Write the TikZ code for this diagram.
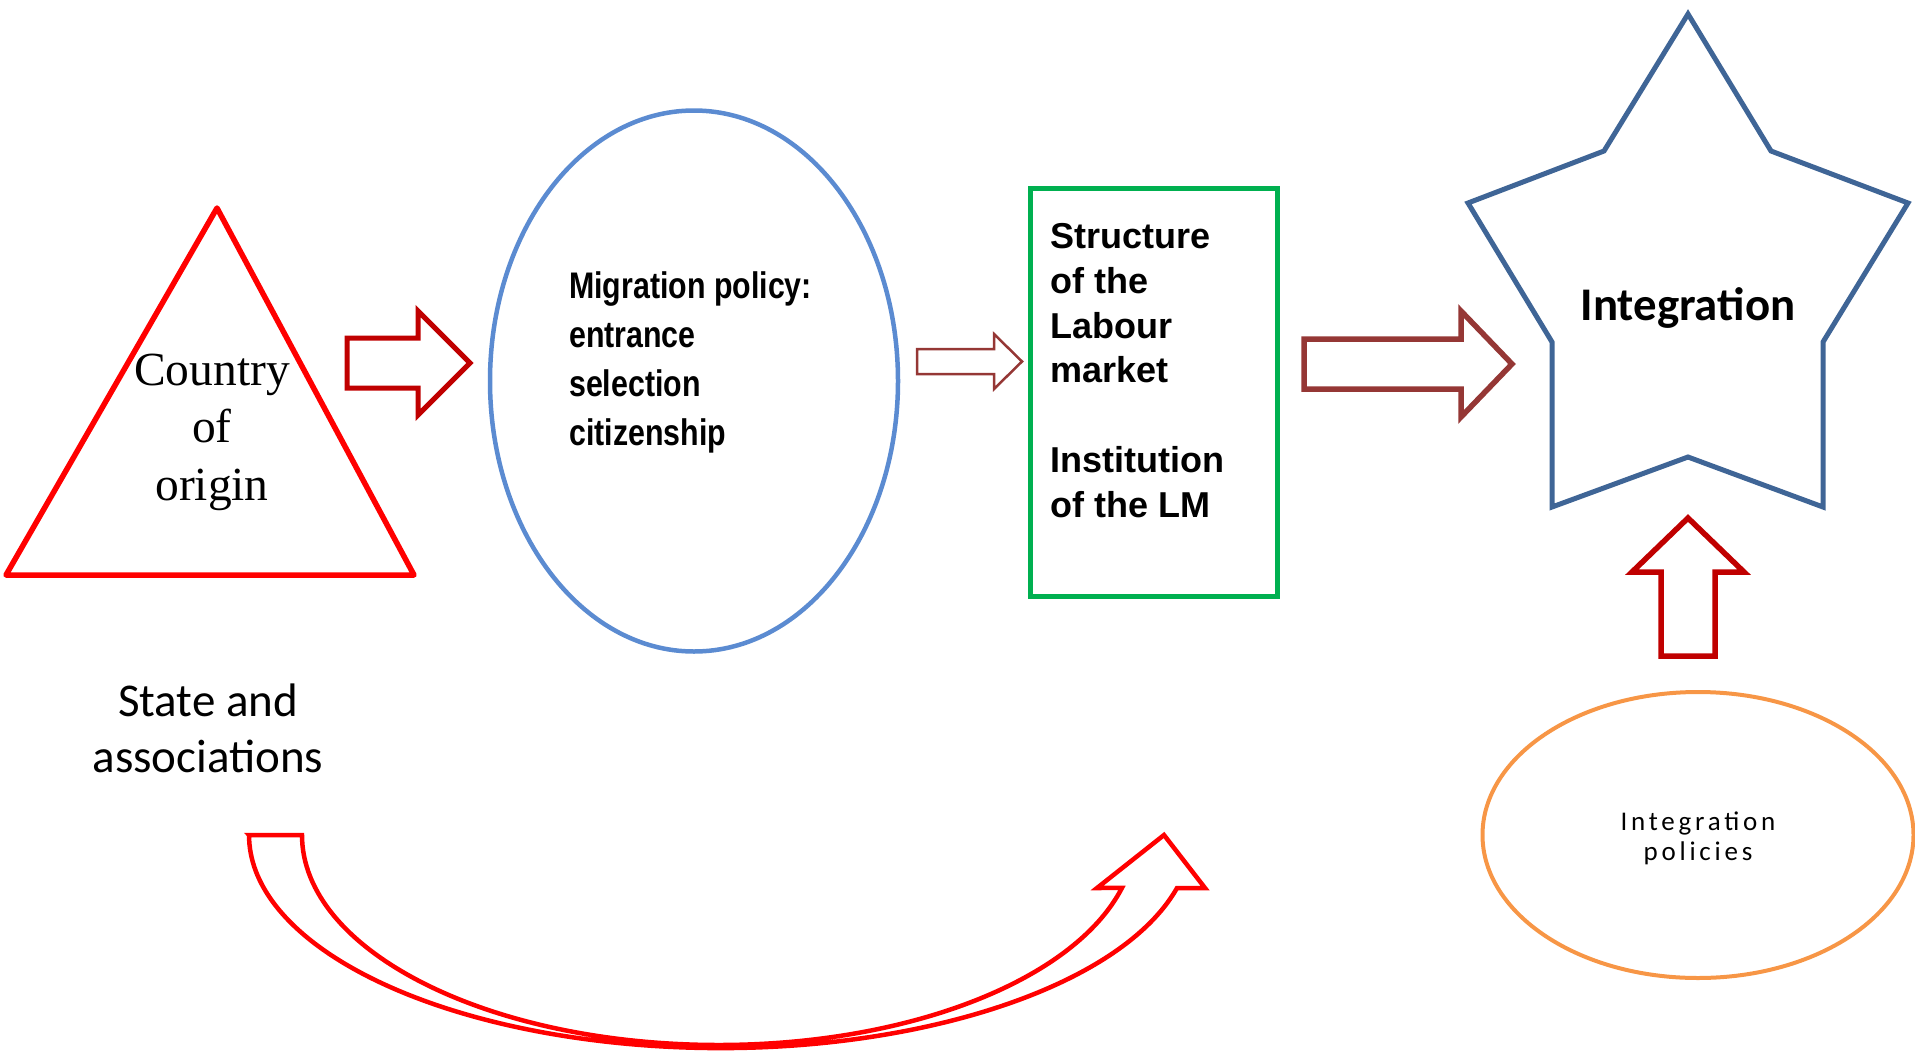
\documentclass[tikz,border=0pt]{standalone}
\usepackage{fontspec}
\setmainfont{Liberation Serif}
\newfontfamily\calibri{Carlito}
\newfontfamily\arial{Liberation Sans}
\newfontfamily\arialnarrow[FakeStretch=0.82]{Liberation Sans}
\newfontfamily\calibrispaced[LetterSpace=14]{Carlito}
\usetikzlibrary{shapes.geometric,positioning}

\definecolor{triRed}{HTML}{FF0000}
\definecolor{darkRed}{HTML}{C00000}
\definecolor{brownRed}{HTML}{953735}
\definecolor{migBlue}{HTML}{5B8BD1}
\definecolor{lmGreen}{HTML}{00B050}
\definecolor{starBlue}{HTML}{3F6596}
\definecolor{polOrange}{HTML}{F79646}

\begin{document}
\begin{tikzpicture}[x=1pt,y=-1pt,
  txt/.style={inner sep=0pt, text=black},
  fatarrow/.style={draw, line width=5pt, fill=white, line join=miter}]
\useasboundingbox (0,0) rectangle (1915,1050);

% Country of origin
\draw[triRed, line width=5.5pt, line join=round] (217,208) -- (414,575) -- (6,575) -- cycle;
\node[txt, align=center, anchor=base, font=\fontsize{47.5}{57.5}\selectfont] (origin) at (212,500) {Country\\of\\origin};
\node[txt, align=center, anchor=base, font=\calibri\fontsize{47}{56}\selectfont] (state) at (208,772) {State and\\associations};

% Migration policy
\node[draw=migBlue, line width=4.5pt, ellipse, minimum width=408pt, minimum height=541pt, inner sep=0pt] (migration) at (694,381) {};
\node[txt, align=left, anchor=base west, font=\arialnarrow\bfseries\fontsize{37}{48.7}\selectfont] (policy) at (569,445) {Migration policy:\\entrance\\selection\\citizenship};

% Labour market
\node[draw=lmGreen, line width=5pt, minimum width=247pt, minimum height=408pt, inner sep=0pt] (labour) at (1153.5,392) {};
\node[txt, align=left, anchor=base west, font=\arial\bfseries\fontsize{36}{44.7}\selectfont] (lmtext) at (1050,517) {Structure\\of the\\Labour\\market\\[44.7pt]Institution\\of the LM};

% Integration
\draw[starBlue, line width=5pt, line join=miter] (1688,14) -- (1771,151) -- (1908,203) -- (1823,342) -- (1823,507) -- (1688,457) -- (1552,507) -- (1552,342) -- (1468,203) -- (1604,151) -- cycle;
\node[txt, anchor=base, font=\calibri\bfseries\fontsize{46.8}{56}\selectfont] (integration) at (1688,320) {Integration};

% Integration policies
\node[draw=polOrange, line width=4pt, ellipse, minimum width=431pt, minimum height=286pt, inner sep=0pt] (policies) at (1698,835) {};
\node[txt, align=center, anchor=base, font=\calibrispaced\fontsize{27}{30}\selectfont] (poltext) at (1698,860) {Integration\\policies};

% Arrows
\draw[fatarrow, draw=darkRed] (347,338) -- (418,338) -- (418,311) -- (470,363) -- (418,415) -- (418,388) -- (347,388) -- cycle;
\draw[fatarrow, draw=brownRed, line width=2.5pt] (917,349) -- (994,349) -- (994,334) -- (1022,361.5) -- (994,389) -- (994,374) -- (917,374) -- cycle;
\draw[fatarrow, draw=brownRed, line width=5.5pt] (1304,339) -- (1461,339) -- (1461,311) -- (1512,364) -- (1461,417) -- (1461,389) -- (1304,389) -- cycle;
\draw[fatarrow, draw=darkRed, line width=5.5pt] (1661,656) -- (1661,572) -- (1632,572) -- (1688,518) -- (1744,572) -- (1715,572) -- (1715,656) -- cycle;

% Curved arrow
\draw[triRed, line width=4.5pt, line join=miter] (249,835) -- (302,835)
  arc[start angle=180, end angle=345.4, x radius=416.7pt, y radius=210pt]
  -- (1097,888) -- (1164,835) -- (1205,888) -- (1177,888)
  arc[start angle=345.6, end angle=180, x radius=471.4pt, y radius=213pt] -- cycle;

\end{tikzpicture}
\end{document}
